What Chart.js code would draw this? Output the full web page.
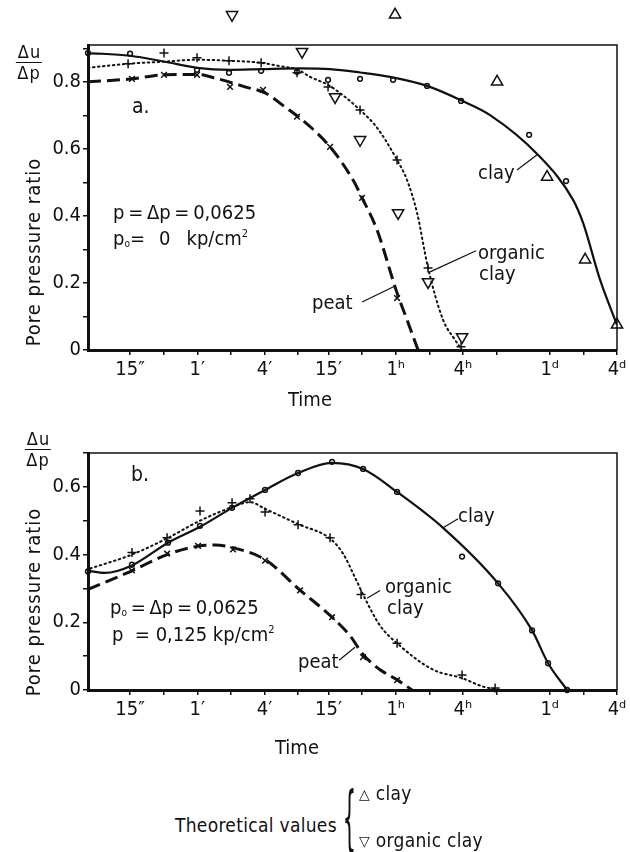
<!DOCTYPE html>
<html>
<head>
<meta charset="utf-8">
<script src="https://cdn.jsdelivr.net/npm/chart.js@4.4.0/dist/chart.umd.min.js"></script>
<style>
  body { margin: 0; background: #fff; }
  #page { position: relative; width: 630px; height: 852px; overflow: hidden;
          font-family: "DejaVu Sans Condensed", "DejaVu Sans", sans-serif; color: #111; }
  canvas { position: absolute; left: 0; }
  .t { position: absolute; white-space: nowrap; line-height: 1; transform: translateY(-50%); font-size: 20px; }
  .ytitle { position: absolute; white-space: nowrap; font-size: 20px; letter-spacing: 1px; line-height: 1;
            transform: translate(-50%, -50%) rotate(-90deg); }
  .frac { position: absolute; font-size: 18px; letter-spacing: 1px; line-height: 1; text-align: center; transform: translateX(-50%); }
  .frac .num { border-bottom: 1.5px solid #111; padding: 0 1px 1px 2px; }
  .frac .den { padding-top: 1px; }
  .eq { word-spacing: -2px; }
  sub { font-size: 10px; vertical-align: -2px; }
  sup { font-size: 11px; vertical-align: 8px; }
  .tri { font-family: "DejaVu Sans", sans-serif; font-size: 14px; vertical-align: 1px; }
  .key { font-size: 19px; letter-spacing: 0.3px; }
</style>
</head>
<body>
<div id="page">
  <canvas id="chartA" width="630" height="390" style="top:0"></canvas>
  <canvas id="chartB" width="630" height="360" style="top:400px"></canvas>

  <!-- chart a texts -->
  <div class="frac" style="left:29px; top:43px"><div class="num">Δu</div><div class="den">Δp</div></div>
  <div class="ytitle" style="left:33px; top:252px">Pore pressure ratio</div>
  <div class="t" style="left:288px; top:399px">Time</div>
  <div class="t" style="left:132px; top:106px; font-size:21px">a.</div>
  <div class="t eq" style="left:113px; top:212px">p = Δp = 0,0625</div>
  <div class="t" style="left:113px; top:238px">p<sub>o</sub>=<span style="margin-left:14px">0</span><span style="margin-left:16px">kp/cm<sup>2</sup></span></div>
  <div class="t" style="left:478px; top:172px">clay</div>
  <div class="t" style="left:478px; top:252px">organic</div>
  <div class="t" style="left:479px; top:273px">clay</div>
  <div class="t" style="left:312px; top:302px">peat</div>

  <!-- chart b texts -->
  <div class="frac" style="left:38px; top:430px"><div class="num">Δu</div><div class="den">Δp</div></div>
  <div class="ytitle" style="left:33px; top:602px">Pore pressure ratio</div>
  <div class="t" style="left:275px; top:747px">Time</div>
  <div class="t" style="left:131px; top:474px; font-size:21px">b.</div>
  <div class="t eq" style="left:110px; top:607px">p<sub>o</sub> = Δp = 0,0625</div>
  <div class="t" style="left:112px; top:634px">p&nbsp;&nbsp;= 0,125 kp/cm<sup>2</sup></div>
  <div class="t" style="left:458px; top:515px">clay</div>
  <div class="t" style="left:385px; top:586px">organic</div>
  <div class="t" style="left:387px; top:607px">clay</div>
  <div class="t" style="left:298px; top:661px">peat</div>

  <!-- key -->
  <div class="t key" style="left:175px; top:825px">Theoretical values</div>
  <div class="t" style="left:340px; top:818px; font-size:30px; font-family:'DejaVu Sans'; transform:translateY(-50%) scale(0.7, 2.4)">{</div>
  <div class="t key" style="left:359px; top:793px"><span class="tri">△</span> clay</div>
  <div class="t key" style="left:359px; top:840px"><span class="tri">▽</span> organic clay</div>
</div>

<script>
// time axis (seconds) and its labels
const majorTicks = [15, 60, 240, 900, 3600, 14400, 86400, 345600];
const majorLabels = ["15″", "1′", "4′", "15′", "1ʰ", "4ʰ", "1ᵈ", "4ᵈ"];
const minorTicks = [30, 120, 480, 1800, 7200, 28800, 172800];
const yTicks = [0, 0.1, 0.2, 0.3, 0.4, 0.5, 0.6, 0.7, 0.8, 0.9];

// ---- a. p = dp = 0.0625, p0 = 0
const clayCurveA_t = [6.3, 15, 30.9, 59.7, 118, 228, 500, 929, 1724, 3200, 6870, 13854, 25200, 67860, 139700, 171700, 243900, 345600];
const clayCurveA_y = [0.886, 0.878, 0.860, 0.842, 0.836, 0.838, 0.840, 0.838, 0.828, 0.815, 0.788, 0.745, 0.701, 0.582, 0.448, 0.379, 0.209, 0.075];
const clayPtsA_t = [6.3, 15, 59.7, 115.5, 224, 470, 891, 1724, 3407, 6870, 13854, 56370, 120900];
const clayPtsA_y = [0.886, 0.884, 0.836, 0.827, 0.833, 0.830, 0.806, 0.809, 0.806, 0.788, 0.743, 0.642, 0.504];

const orgCurveA_t = [6.3, 14.4, 29.6, 59.7, 115.5, 224, 318, 480, 615, 891, 1266, 1724, 2449, 3701, 4546, 5591, 7012, 9558, 12240, 14144];
const orgCurveA_y = [0.842, 0.854, 0.860, 0.866, 0.863, 0.857, 0.848, 0.836, 0.815, 0.791, 0.755, 0.716, 0.663, 0.567, 0.507, 0.409, 0.245, 0.09, 0.03, 0];
const orgPtsA_t = [14.4, 30.2, 59.7, 115.5, 224, 470, 891, 1724, 3701, 7012, 13854];
const orgPtsA_y = [0.854, 0.886, 0.872, 0.863, 0.857, 0.827, 0.785, 0.716, 0.567, 0.245, 0.01];

const peatCurveA_t = [6.3, 15.6, 30.2, 59.7, 92, 161, 243, 367, 521, 929, 1493, 1797, 2449, 3701, 4546, 5706];
const peatCurveA_y = [0.800, 0.809, 0.821, 0.822, 0.809, 0.785, 0.767, 0.725, 0.687, 0.606, 0.507, 0.454, 0.358, 0.17, 0.09, 0];
const peatPtsA_t = [15.6, 30.2, 59.7, 118, 233, 470, 929, 1797, 3701];
const peatPtsA_y = [0.809, 0.821, 0.821, 0.785, 0.776, 0.696, 0.606, 0.454, 0.155];

const theoOrgA_t = [123, 521, 1030, 1724, 3779, 7012, 14144];
const theoOrgA_y = [1.0, 0.89, 0.755, 0.627, 0.409, 0.203, 0.039];
const theoClayA_t = [3551, 29130, 81700, 179000, 345600];
const theoClayA_y = [1.0, 0.800, 0.516, 0.269, 0.075];

const leadersA = [
  [[43990, 0.537], [67860, 0.585]],
  [[7306, 0.233], [18880, 0.296]],
  [[1797, 0.143], [3551, 0.191]],
];

// ---- b. p0 = dp = 0.0625, p = 0.125
const clayCurveB_t = [6.3, 8.9, 15.6, 32.8, 63.5, 123, 243, 480, 968, 1835, 3701, 9558, 29730, 59960, 83400, 123400];
const clayCurveB_y = [0.352, 0.346, 0.368, 0.435, 0.482, 0.538, 0.591, 0.641, 0.671, 0.653, 0.585, 0.479, 0.315, 0.176, 0.079, 0];
const clayPtsB_t = [6.3, 15.6, 32.8, 63.5, 123, 243, 480, 968, 1835, 3701, 14144, 29730, 59960, 83400, 123400];
const clayPtsB_y = [0.35, 0.37, 0.435, 0.485, 0.538, 0.591, 0.641, 0.674, 0.653, 0.585, 0.394, 0.315, 0.176, 0.079, 0];

const orgCurveB_t = [6.6, 15.6, 32.2, 63.5, 123, 178, 243, 480, 929, 1214, 1555, 1912, 2606, 3701, 7775, 14144, 21820, 30990];
const orgCurveB_y = [0.359, 0.400, 0.448, 0.500, 0.540, 0.555, 0.535, 0.490, 0.447, 0.403, 0.332, 0.27, 0.19, 0.138, 0.06, 0.035, 0.01, 0];
const orgPtsB_t = [15.6, 32.2, 63.5, 123, 178, 243, 480, 929, 1760, 3701, 14144, 27950];
const orgPtsB_y = [0.406, 0.450, 0.529, 0.553, 0.565, 0.526, 0.488, 0.450, 0.282, 0.138, 0.044, 0.006];

const peatCurveB_t = [6.3, 15.6, 32.2, 61, 86.6, 125.5, 243, 500, 968, 1403, 1835, 2606, 3701, 5043];
const peatCurveB_y = [0.297, 0.352, 0.400, 0.425, 0.428, 0.420, 0.385, 0.295, 0.215, 0.16, 0.105, 0.06, 0.03, 0];
const peatPtsB_t = [15.6, 32.2, 61, 125.5, 243, 500, 968, 1835, 3701];
const peatPtsB_y = [0.353, 0.403, 0.426, 0.415, 0.382, 0.294, 0.215, 0.097, 0.029];

const leadersB = [
  [[9558, 0.479], [13030, 0.506]],
  [[1992, 0.271], [2606, 0.294]],
  [[1118, 0.088], [1555, 0.126]],
];

const INK = "#111";
const FONT = "'DejaVu Sans Condensed', 'DejaVu Sans', sans-serif";

const pts = (xs, ys) => xs.map((x, i) => ({ x: x, y: ys[i] }));

const curve = (xs, ys, dash, width) => ({
  data: pts(xs, ys),
  borderColor: INK,
  borderWidth: width,
  borderDash: dash,
  borderCapStyle: dash.length && dash[0] < 3 ? "round" : "butt",
  pointRadius: 0,
  cubicInterpolationMode: "monotone",
  fill: false,
});

const marks = (xs, ys, style, r, rot) => ({
  data: pts(xs, ys),
  showLine: false,
  pointStyle: style,
  pointRadius: r,
  pointRotation: rot || 0,
  pointBorderColor: INK,
  pointBorderWidth: 1.5,
  pointBackgroundColor: "rgba(255,255,255,0)",
  clip: false,
});

const leader = (seg) => ({
  data: seg.map((p) => ({ x: p[0], y: p[1] })),
  borderColor: INK,
  borderWidth: 1.2,
  pointRadius: 0,
  tension: 0,
});

// top and right edges of the box
const frame = {
  id: "frame",
  beforeDatasetsDraw(chart) {
    const { ctx, chartArea: a } = chart;
    ctx.save();
    ctx.strokeStyle = INK;
    ctx.lineWidth = 1.5;
    ctx.beginPath();
    ctx.moveTo(a.left, a.top);
    ctx.lineTo(a.right, a.top);
    ctx.lineTo(a.right, a.bottom);
    ctx.stroke();
    ctx.restore();
  },
};

// points lying above the box (theoretical values > ymax) are skipped by Chart.js, draw them here
const overflowMarks = {
  id: "overflowMarks",
  afterDatasetsDraw(chart) {
    const a = chart.chartArea;
    const full = { left: 0, top: 0, right: chart.width, bottom: chart.height };
    chart.data.datasets.forEach((ds, i) => {
      if (ds.clip !== false) return;
      chart.getDatasetMeta(i).data.forEach((el) => {
        if (el.y < a.top - 1) el.draw(chart.ctx, full);
      });
    });
  },
};

function makeChart(id, datasets, yMax, padTop, xHeight) {
  return new Chart(document.getElementById(id), {
    type: "line",
    data: { datasets: datasets },
    plugins: [frame, overflowMarks],
    options: {
      responsive: false,
      animation: false,
      events: [],
      devicePixelRatio: 1,
      layout: { padding: { top: padTop, right: 13, left: 0, bottom: 0 } },
      plugins: { legend: { display: false }, tooltip: { enabled: false } },
      scales: {
        x: {
          type: "logarithmic",
          min: 6.3,
          max: 345600,
          afterBuildTicks: (s) => {
            s.ticks = majorTicks.concat(minorTicks).sort((a, b) => a - b).map((v) => ({ value: v }));
          },
          afterFit: (s) => { s.height = xHeight; },
          ticks: {
            autoSkip: false,
            maxRotation: 0,
            padding: 3,
            color: INK,
            font: { family: FONT, size: 20 },
            callback: (v) => {
              const i = majorTicks.indexOf(v);
              return i < 0 ? "" : majorLabels[i];
            },
          },
          grid: { display: true, drawOnChartArea: false, drawTicks: true, tickLength: 5, color: INK, lineWidth: 1.5 },
          border: { display: true, color: INK, width: 3 },
        },
        y: {
          min: 0,
          max: yMax,
          afterBuildTicks: (s) => {
            s.ticks = yTicks.filter((v) => v <= yMax).map((v) => ({ value: v }));
          },
          afterFit: (s) => { s.width = 88; },
          ticks: {
            padding: 2,
            color: INK,
            font: { family: FONT, size: 20 },
            callback: (v) => {
              const k = Math.round(v * 10);
              if (k % 2) return "";
              return k === 0 ? "0" : (k / 10).toFixed(1);
            },
          },
          grid: { display: true, drawOnChartArea: false, drawTicks: true, tickLength: 5, color: INK, lineWidth: 1.5 },
          border: { display: true, color: INK, width: 3 },
        },
      },
    },
  });
}

makeChart("chartA", [
  curve(clayCurveA_t, clayCurveA_y, [], 2.2),
  curve(orgCurveA_t, orgCurveA_y, [1.5, 3.5], 2),
  curve(peatCurveA_t, peatCurveA_y, [13, 6], 3),
  marks(clayPtsA_t, clayPtsA_y, "circle", 2.4),
  marks(orgPtsA_t, orgPtsA_y, "cross", 4.5),
  marks(peatPtsA_t, peatPtsA_y, "crossRot", 4),
  marks(theoOrgA_t, theoOrgA_y, "triangle", 6.5, 180),
  marks(theoClayA_t, theoClayA_y, "triangle", 6.5),
].concat(leadersA.map(leader)), 0.91, 45, 40);

makeChart("chartB", [
  curve(clayCurveB_t, clayCurveB_y, [], 2.2),
  curve(orgCurveB_t, orgCurveB_y, [1.5, 3.5], 2),
  curve(peatCurveB_t, peatCurveB_y, [13, 6], 3),
  marks(clayPtsB_t, clayPtsB_y, "circle", 2.4),
  marks(orgPtsB_t, orgPtsB_y, "cross", 4.5),
  marks(peatPtsB_t, peatPtsB_y, "crossRot", 4),
].concat(leadersB.map(leader)), 0.7, 53, 70);
</script>
</body>
</html>
